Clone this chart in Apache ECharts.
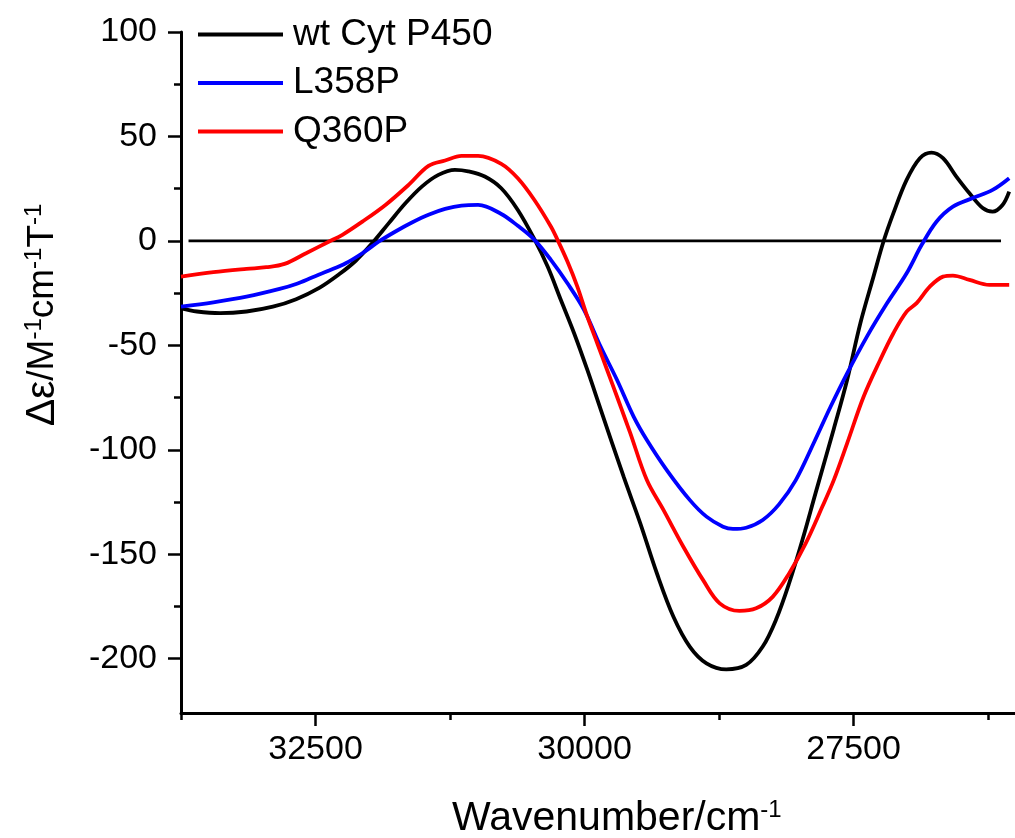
<!DOCTYPE html>
<html>
<head>
<meta charset="utf-8">
<title>CD spectra</title>
<script src="https://cdn.jsdelivr.net/npm/echarts@6/dist/echarts.min.js"></script>
<style>
  html, body { margin: 0; padding: 0; background: #fff; }
  #chart { width: 1015px; height: 838px; }
</style>
</head>
<body>
<div id="chart"></div>
<script>
// wavenumber (cm-1), delta epsilon
var wtData = [
  [33750, -32.3], [33602, -33.8], [33387, -34.6], [33141, -33.8], [32896, -31.5],
  [32680, -27.9], [32465, -22.5], [32281, -16.0], [32126, -9.5], [31973, -1.1],
  [31819, 8.5], [31665, 18.0], [31512, 26.0], [31358, 31.6], [31204, 34.0],
  [31081, 33.3], [30927, 30.8], [30774, 25.2], [30620, 14.8], [30466, 0.8],
  [30343, -12.3], [30220, -28.3], [30097, -44.2], [29974, -61.8], [29851, -80.5],
  [29636, -113.0], [29482, -135.2], [29328, -159.1], [29174, -179.9],
  [29021, -194.3], [28867, -202.2], [28683, -205.1], [28498, -203.0], [28344, -194.2],
  [28221, -181.4], [28099, -163.9], [27975, -143.1], [27852, -120.5], [27684, -90.0],
  [27560, -66.6], [27437, -39.4], [27315, -17.1], [27222, -0.3], [27130, 13.3],
  [27007, 29.2], [26884, 39.6], [26776, 42.3], [26669, 39.6], [26545, 30.8],
  [26423, 22.8], [26300, 15.7], [26208, 14.0], [26116, 17.2], [26054, 23.6]
];
var l358pData = [
  [33750, -31.5], [33449, -29.4], [33141, -26.7], [32834, -23.0], [32680, -20.6],
  [32527, -17.4], [32373, -14.2], [32219, -10.7], [32065, -5.9], [31911, -0.3],
  [31757, 4.5], [31604, 8.8], [31450, 12.5], [31296, 15.3], [31143, 16.9],
  [30989, 17.2], [30774, 12.9], [30620, 7.2], [30466, 0.5], [30313, -9.1],
  [30159, -20.3], [30005, -33.0], [29851, -50.6], [29698, -66.6], [29544, -84.1],
  [29421, -95.3], [29236, -109.7], [29021, -124.1], [28867, -132.0], [28713, -136.8],
  [28621, -137.9], [28498, -137.3], [28344, -133.6], [28191, -126.0], [28037, -114.5],
  [27868, -96.5], [27714, -79.4], [27560, -63.4], [27376, -45.8], [27191, -30.0],
  [27007, -15.5], [26868, -2.0], [26730, 9.2], [26577, 16.4], [26392, 20.5],
  [26208, 24.4], [26054, 30.0]
];
var q360pData = [
  [33750, -17.1], [33449, -15.0], [33141, -13.4], [32957, -12.6], [32788, -11.0],
  [32588, -5.9], [32373, -0.3], [32250, 2.9], [32065, 9.2], [31850, 17.2],
  [31635, 26.8], [31450, 35.9], [31296, 38.5], [31143, 40.7], [30989, 40.7],
  [30774, 36.9], [30620, 30.0], [30466, 19.6], [30313, 6.9], [30251, 0.5],
  [30159, -9.9], [30067, -21.9], [29974, -36.3], [29882, -49.0], [29790, -61.8],
  [29698, -74.6], [29621, -85.5], [29575, -92.0], [29421, -114.5], [29267, -128.8],
  [29082, -146.4], [28898, -162.4], [28744, -173.5], [28560, -177.1], [28406, -175.9],
  [28252, -170.4], [28099, -159.2], [27945, -144.8], [27791, -127.3], [27684, -114.5],
  [27560, -96.9], [27407, -74.6], [27253, -57.0], [27130, -44.2], [27007, -33.9],
  [26914, -29.8], [26792, -21.9], [26669, -17.1], [26577, -16.6], [26423, -18.7],
  [26238, -21.1], [26054, -21.1]
];
var zeroLine = [[33680, 0], [26130, 0]];

var seriesNames = ['wt Cyt P450', 'L358P', 'Q360P'];
var xMajorTicks = [32500, 30000, 27500];
var xMinorTicks = [33750, 31250, 28750, 26250];
var yMajorTicks = [-200, -150, -100, -50, 0, 50, 100];
var yMinorTicks = [-175, -125, -75, -25, 25, 75];

var FONT = '"Liberation Sans", Arial, sans-serif';
var myChart = echarts.init(document.getElementById('chart'));

function xAxisOf(ticks, len, withLabels) {
  return {
    type: 'value', position: 'bottom', inverse: true,
    min: 26000, max: 33750,
    axisLine: { show: withLabels, onZero: false, lineStyle: { color: '#000', width: 3 } },
    axisTick: { show: true, inside: false, length: len, customValues: ticks,
      lineStyle: { color: '#000', width: 2.5 } },
    axisLabel: { show: withLabels, customValues: ticks, margin: 20,
      color: '#000', fontSize: 34, fontFamily: FONT,
      formatter: function (v) { return String(v); } },
    splitLine: { show: false }
  };
}
function yAxisOf(ticks, len, withLabels) {
  return {
    type: 'value', position: 'left',
    min: -226, max: 100,
    axisLine: { show: withLabels, onZero: false, lineStyle: { color: '#000', width: 3 } },
    axisTick: { show: true, inside: false, length: len, customValues: ticks,
      lineStyle: { color: '#000', width: 2.5 } },
    axisLabel: { show: withLabels, customValues: ticks, margin: 24,
      color: '#000', fontSize: 34, fontFamily: FONT,
      formatter: function (v) { return String(v); } },
    splitLine: { show: false }
  };
}

function curve(name, data, color) {
  return {
    name: name, type: 'line', data: data,
    symbol: 'none', smooth: 0.35,
    lineStyle: { color: color, width: 3.8 },
    itemStyle: { color: color },
    z: 3
  };
}

var option = {
  backgroundColor: '#fff',
  animation: false,
  grid: { left: 181, right: -6, top: 32, bottom: 125, containLabel: false },
  legend: {
    data: seriesNames,
    orient: 'vertical',
    left: 198, top: 16, padding: 0,
    icon: 'rect',
    itemWidth: 85, itemHeight: 3.8, itemGap: 11.5,
    textStyle: { color: '#000', fontSize: 37, fontFamily: FONT, lineHeight: 36,
      padding: [0, 0, 0, 5] }
  },
  xAxis: [xAxisOf(xMajorTicks, 13, true), xAxisOf(xMinorTicks, 7, false)],
  yAxis: [yAxisOf(yMajorTicks, 13, true), yAxisOf(yMinorTicks, 7, false)],
  graphic: [
    {
      type: 'text', x: 452, y: 839,
      style: {
        text: '{m|Wavenumber/cm}{s|-1}',
        verticalAlign: 'bottom',
        rich: {
          m: { fontSize: 41, fontFamily: FONT, fill: '#000' },
          s: { fontSize: 24, fontFamily: FONT, fill: '#000', verticalAlign: 'top' }
        }
      }
    },
    {
      type: 'text', x: 63, y: 315, rotation: Math.PI / 2,
      style: {
        text: '{g|\u0394\u03b5}{m|/M}{s|-1}{m|cm}{s|-1}{m|T}{s|-1}',
        align: 'center', verticalAlign: 'bottom',
        rich: {
          g: { fontSize: 41, fontFamily: FONT, fill: '#000' },
          m: { fontSize: 37, fontFamily: FONT, fill: '#000' },
          s: { fontSize: 24, fontFamily: FONT, fill: '#000', verticalAlign: 'top' }
        }
      }
    }
  ],
  series: [
    {
      name: 'zero', type: 'line', data: zeroLine, symbol: 'none',
      lineStyle: { color: '#000', width: 2.7 }, silent: true, z: 2
    },
    curve(seriesNames[0], wtData, '#000000'),
    curve(seriesNames[1], l358pData, '#0000ff'),
    curve(seriesNames[2], q360pData, '#ff0000')
  ]
};
myChart.setOption(option);
</script>
</body>
</html>
